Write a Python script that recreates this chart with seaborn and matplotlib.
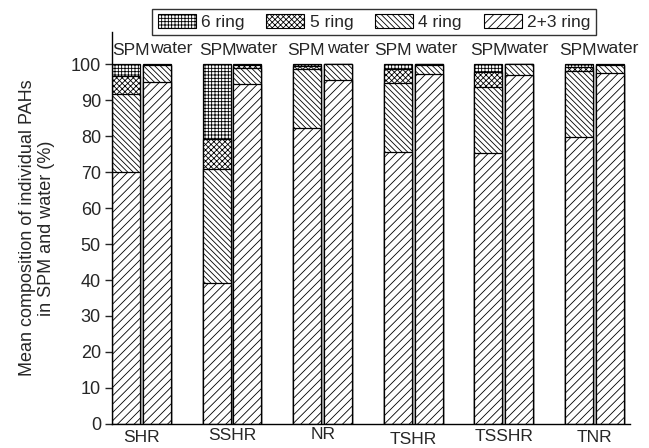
import numpy as np
import pandas as pd
import seaborn as sns
import matplotlib
matplotlib.use("Agg")
import matplotlib.pyplot as plt
from matplotlib.patches import Patch
from matplotlib.transforms import ScaledTranslation

sites = ['SHR', 'SSHR', 'NR', 'TSHR', 'TSSHR', 'TNR']
media = ['SPM', 'water']
ring_labels = ['6 ring', '5 ring', '4 ring', '2+3 ring']

ring23_spm = [70.0, 39.2, 82.3, 75.6, 75.2, 79.8]
ring4_spm = [21.7, 31.6, 16.2, 19.0, 18.5, 18.3]
ring5_spm = [5.0, 8.4, 0.9, 3.9, 4.2, 1.2]
ring6_spm = [3.3, 20.8, 0.6, 1.5, 2.1, 0.7]

ring23_water = [95.1, 94.4, 95.5, 97.1, 96.9, 97.4]
ring4_water = [4.5, 4.6, 4.5, 2.7, 3.0, 2.2]
ring5_water = [0.2, 0.6, 0.0, 0.1, 0.1, 0.2]
ring6_water = [0.2, 0.4, 0.0, 0.1, 0.0, 0.2]

rows = []
for i, s in enumerate(sites):
    for m, (r23, r4, r5, r6) in zip(media, [
        (ring23_spm[i], ring4_spm[i], ring5_spm[i], ring6_spm[i]),
        (ring23_water[i], ring4_water[i], ring5_water[i], ring6_water[i]),
    ]):
        rows.append(dict(site=s, medium=m, r23=r23, r4=r4, r5=r5, r6=r6))
df = pd.DataFrame(rows)
df['c23'] = df['r23']
df['c4'] = df['r23'] + df['r4']
df['c5'] = df['c4'] + df['r5']
df['c6'] = df['c5'] + df['r6']

sns.set_style('white')
plt.rcParams['font.family'] = ['Liberation Sans', 'DejaVu Sans']
plt.rcParams['hatch.linewidth'] = 0.6

fig = plt.figure(figsize=(6.49, 4.48), dpi=100)
ax = fig.add_axes([0.1726, 0.0536, 0.9707 - 0.1726, 0.9286 - 0.0536])

hatches = ['+++++', 'xxxxxx', '\\\\\\\\\\\\', '////']
cols = ['c6', 'c5', 'c4', 'c23']
for col, h in zip(cols, hatches):
    sns.barplot(data=df, x='site', y=col, hue='medium', order=sites,
                hue_order=media, palette=['white', 'white'], width=0.68,
                gap=0.09, edgecolor='black', linewidth=0.9, hatch=h,
                errorbar=None, legend=False, ax=ax, saturation=1)

ax.set_xlim(-0.325, 5.392)
ax.set_ylim(0, 108.9)
ax.set_yticks(np.arange(0, 101, 10))
ax.set_xlabel('')
ax.set_ylabel('Mean composition of individual PAHs\nin SPM and water (%)',
              fontsize=13, labelpad=11)
ax.tick_params(axis='y', labelsize=13, length=5, width=1, direction='out',
               left=True, pad=3)
ax.tick_params(axis='x', labelsize=12.5, length=0, pad=4)
for side in ['top', 'right']:
    ax.spines[side].set_visible(False)
for side in ['left', 'bottom']:
    ax.spines[side].set_color('black')
    ax.spines[side].set_linewidth(1.0)

# slight vertical offsets of category labels as in the reference
label_dy = [0, 2, 3, -2, 1, 0]
for lbl, dy in zip(ax.get_xticklabels(), label_dy):
    lbl.set_transform(lbl.get_transform() + ScaledTranslation(0, dy / 100, fig.dpi_scale_trans))

# SPM / water labels above each pair
spm_off = [-0.115, -0.155, -0.184, -0.223, -0.164, -0.182]
water_off = [0.326, 0.264, 0.280, 0.251, 0.255, 0.249]
for i in range(len(sites)):
    ax.text(i + spm_off[i], 103.8, 'SPM', ha='center', va='center', fontsize=12.5)
    ax.text(i + water_off[i], 104.2, 'water', ha='center', va='center', fontsize=12.5)

handles = [Patch(facecolor='white', edgecolor='black', hatch=h, linewidth=0.8)
           for h in hatches]
leg = fig.legend(handles, ring_labels, ncol=4, loc='center',
                 bbox_to_anchor=(374 / 649, 1 - 22 / 448), frameon=True,
                 fancybox=False, fontsize=12.5, handlelength=2.2,
                 handleheight=0.85, columnspacing=1.25, handletextpad=0.3,
                 borderpad=0.3, borderaxespad=0)
leg.get_frame().set_edgecolor('black')
leg.get_frame().set_linewidth(1.0)

fig.savefig('out.png', dpi=100)
